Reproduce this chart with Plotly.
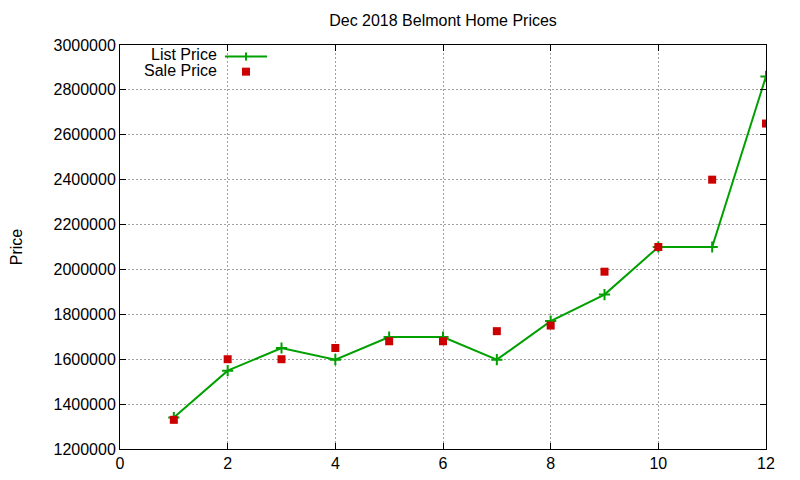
import plotly.graph_objects as go

# house index (sorted by price) and prices
house = [1, 2, 3, 4, 5, 6, 7, 8, 9, 10, 11, 12]
list_price = [1340000, 1549000, 1650000, 1598000, 1699000, 1699000,
              1598000, 1770000, 1888000, 2100000, 2100000, 2860000]
sale_price = [1330000, 1600000, 1600000, 1650000, 1680000, 1680000,
              1725000, 1750000, 1990000, 2100000, 2400000, 2650000]

x_ticks = [0, 2, 4, 6, 8, 10, 12]
y_ticks = list(range(1200000, 3000001, 200000))

GREEN = "#00a000"
RED = "#cc0000"
FONT = "Liberation Sans, Arial, sans-serif"

# page body has an 8px margin, so the figure is a bit smaller than the window
W, H = 792, 472

fig = go.Figure()

fig.add_trace(go.Scatter(
    x=house, y=list_price, name="List Price", mode="lines+markers",
    line=dict(color=GREEN, width=2),
    marker=dict(symbol="cross-thin", size=8, line=dict(color=GREEN, width=2)),
))
fig.add_trace(go.Scatter(
    x=house, y=sale_price, name="Sale Price", mode="markers",
    marker=dict(symbol="square", size=8, color=RED),
))

axis_style = dict(
    showline=True, linecolor="black", linewidth=1, mirror="ticks",
    ticks="inside", ticklen=6, tickcolor="black",
    showgrid=True, gridcolor="#a0a0a0", griddash="2px,2px", gridwidth=1,
    zeroline=False, automargin=False, tickfont=dict(size=16, color="black"),
)

fig.update_xaxes(range=[0, 12], tickvals=x_ticks, **axis_style)
fig.update_yaxes(range=[1200000, 3000000], tickvals=y_ticks, tickformat="d",
                 title=dict(text="Price", font=dict(size=16, color="black"), standoff=37),
                 **axis_style)

# gnuplot-style key: text on the left, sample on the right
fig.add_annotation(x=0.1515, y=0.977, xref="paper", yref="paper", text="List Price",
                   showarrow=False, xanchor="right", yanchor="middle", borderpad=0,
                   font=dict(size=16, color="black"))
fig.add_annotation(x=0.1515, y=0.936, xref="paper", yref="paper", text="Sale Price",
                   showarrow=False, xanchor="right", yanchor="middle", borderpad=0,
                   font=dict(size=16, color="black"))
fig.add_shape(type="line", xref="paper", yref="paper", x0=0.1625, x1=0.2276,
              y0=0.9715, y1=0.9715, line=dict(color=GREEN, width=2))
fig.add_shape(type="line", xref="paper", yref="paper", x0=0.195, x1=0.195,
              y0=0.9715 - 0.01, y1=0.9715 + 0.01, line=dict(color=GREEN, width=2))
fig.add_shape(type="rect", xref="paper", yref="paper", x0=0.195 - 0.0062, x1=0.195 + 0.0062,
              y0=0.934 - 0.0099, y1=0.934 + 0.0099, line=dict(width=0), fillcolor=RED)

fig.update_layout(
    width=W, height=H,
    margin=dict(l=112, r=34, t=37, b=31),
    paper_bgcolor="white", plot_bgcolor="white",
    font=dict(family=FONT, size=16, color="black"),
    title=dict(text="Dec 2018 Belmont Home Prices", x=0.5, xref="paper",
               y=1 - 12 / H, yanchor="middle", font=dict(size=16, color="black")),
    showlegend=False,
)

fig.write_html("out.html")
